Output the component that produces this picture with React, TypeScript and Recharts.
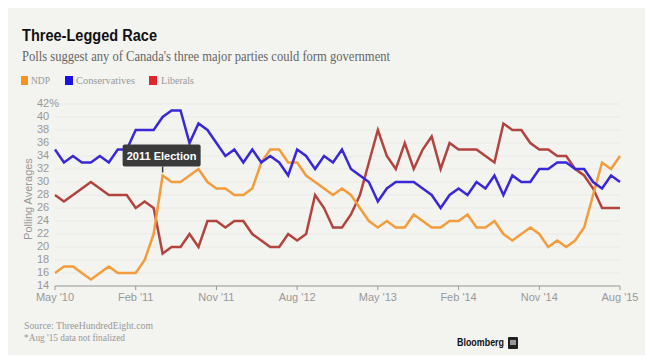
import { LineChart, Line, XAxis, YAxis, CartesianGrid, ReferenceDot } from 'recharts'

// monthly polling averages, May '10 .. Aug '15 (64 months)
const ndp = [
  16, 17, 17, 16, 15, 16, 17, 16, 16, 16, 18, 22, 31, 30, 30, 31,
  32, 30, 29, 29, 28, 28, 29, 33, 35, 35, 33, 33, 31, 30, 29, 28,
  29, 28, 26, 24, 23, 24, 23, 23, 25, 24, 23, 23, 24, 24, 25, 23,
  23, 24, 22, 21, 22, 23, 22, 20, 21, 20, 21, 23, 28, 33, 32, 34,
]
const conservatives = [
  35, 33, 34, 33, 33, 34, 33, 35, 35, 38, 38, 38, 40, 41, 41, 36,
  39, 38, 36, 34, 35, 33, 35, 33, 34, 33, 31, 35, 34, 32, 34, 33,
  35, 32, 31, 30, 27, 29, 30, 30, 30, 29, 28, 26, 28, 29, 28, 30,
  29, 31, 28, 31, 30, 30, 32, 32, 33, 33, 32, 32, 30, 29, 31, 30,
]
const liberals = [
  28, 27, 28, 29, 30, 29, 28, 28, 28, 26, 27, 26, 19, 20, 20, 22,
  20, 24, 24, 23, 24, 24, 22, 21, 20, 20, 22, 21, 22, 28, 26, 23,
  23, 25, 28, 33, 38, 34, 32, 36, 32, 35, 37, 32, 36, 35, 35, 35,
  34, 33, 39, 38, 38, 36, 35, 35, 34, 34, 32, 31, 29, 26, 26, 26,
]

const xTickIndex = [0, 9, 18, 27, 36, 45, 54, 63]
const xTickLabels = ["May '10", "Feb '11", "Nov '11", "Aug '12", "May '13", "Feb '14", "Nov '14", "Aug '15"]
const yTicks = [14, 16, 18, 20, 22, 24, 26, 28, 30, 32, 34, 36, 38, 40, 42]
const electionIndex = 12

const data = ndp.map((v, i) => ({
  i,
  ndp: v,
  conservatives: conservatives[i],
  liberals: liberals[i],
}))

const SANS = '"Liberation Sans", Arial, sans-serif'
const SERIF = '"Liberation Serif", "DejaVu Serif", serif'
const BG = '#f3f3ef'
const TICK_GRAY = '#999'

if (typeof document !== 'undefined') document.body.style.margin = '0'

function YTick({ y, payload }: { y?: number; payload?: { value: number } }) {
  const v = payload?.value ?? 0
  return (
    <text x={29} y={y} dy="0.3em" fontSize={11} fill={TICK_GRAY} fontFamily={SANS}>
      {v === 42 ? '42%' : v}
    </text>
  )
}

function ElectionMarker({ cx, cy }: { cx?: number; cy?: number }) {
  if (cx == null || cy == null) return null
  return (
    <g>
      <line x1={cx} y1={cy - 9} x2={cx} y2={cy - 3} stroke="#3a3a3a" strokeWidth={1.5} />
      <rect x={cx - 40} y={cy - 31} width={78} height={22} rx={2} fill="#3a3a3a" />
      <text x={cx - 1} y={cy - 16} textAnchor="middle" fill="#fff" fontSize={11}
        fontWeight="bold" fontFamily={SANS}>
        2011 Election
      </text>
    </g>
  )
}

export default function App() {
  return (
    <div style={{ padding: '8px 0 0 8px' }}>
      <div style={{ position: 'relative', width: 637, height: 347, background: BG }}>
        <svg width={637} height={347} style={{ position: 'absolute', left: 0, top: 0 }}>
          <text x={14} y={33} fontSize={16} fontWeight="bold" fill="#111" fontFamily={SANS}
            textLength={135} lengthAdjust="spacingAndGlyphs">Three-Legged Race</text>
          <text x={14} y={53} fontSize={15} fill="#666" fontFamily={SERIF}
            textLength={368} lengthAdjust="spacingAndGlyphs">
            Polls suggest any of Canada's three major parties could form government
          </text>

          <rect x={13} y={68} width={7} height={9} fill="#f7941d" />
          <text x={23} y={76} fontSize={11} fill="#999" fontFamily={SERIF}
            textLength={19} lengthAdjust="spacingAndGlyphs">NDP</text>
          <rect x={57} y={68} width={8} height={9} fill="#1a10e6" />
          <text x={68} y={76} fontSize={11} fill="#999" fontFamily={SERIF}
            textLength={59} lengthAdjust="spacingAndGlyphs">Conservatives</text>
          <rect x={141} y={68} width={8} height={9} fill="#e0262c" />
          <text x={153} y={76} fontSize={11} fill="#999" fontFamily={SERIF}
            textLength={33} lengthAdjust="spacingAndGlyphs">Liberals</text>

          <text transform="translate(24,191) rotate(-90)" textAnchor="middle" fontSize={11}
            fill={TICK_GRAY} fontFamily={SANS}>Polling Averages</text>

          <text x={16} y={321} fontSize={11} fill="#999" fontFamily={SERIF}
            textLength={129} lengthAdjust="spacingAndGlyphs">Source: ThreeHundredEight.com</text>
          <text x={16} y={333} fontSize={11} fill="#999" fontFamily={SERIF}
            textLength={101} lengthAdjust="spacingAndGlyphs">*Aug '15 data not finalized</text>

          <text x={449} y={338} fontSize={11} fontWeight="bold" fill="#111" fontFamily={SANS}
            textLength={47} lengthAdjust="spacingAndGlyphs">Bloomberg</text>
          <rect x={500} y={329} width={10} height={12} rx={1} fill="#222" />
          <rect x={502} y={332} width={6} height={5} fill="#999" />
        </svg>

        <div style={{ position: 'absolute', left: 0, top: 0 }}>
          <LineChart width={637} height={347} data={data}
            margin={{ top: 96, right: 25, bottom: 39, left: 29 }}>
            <CartesianGrid horizontal vertical={false} stroke="#e9e9e5" />
            <XAxis
              dataKey="i"
              type="number"
              domain={[0, 63]}
              ticks={xTickIndex}
              tickFormatter={(v: number) => xTickLabels[xTickIndex.indexOf(v)] ?? ''}
              height={30}
              stroke={TICK_GRAY}
              tickSize={4}
              tickMargin={3}
              tick={{ fontSize: 11, fill: TICK_GRAY, fontFamily: SANS }}
            />
            <YAxis
              domain={[14, 42]}
              ticks={yTicks}
              width={18}
              axisLine={false}
              tickLine={false}
              tick={<YTick />}
              interval={0}
            />
            <Line type="linear" dataKey="liberals" stroke="#b2443f" strokeWidth={2.5}
              dot={false} isAnimationActive={false} />
            <Line type="linear" dataKey="ndp" stroke="#f39c3c" strokeWidth={2.5}
              dot={false} isAnimationActive={false} />
            <Line type="linear" dataKey="conservatives" stroke="#3a27d8" strokeWidth={2.5}
              dot={false} isAnimationActive={false} />
            <ReferenceDot x={electionIndex} y={ndp[electionIndex]} ifOverflow="visible"
              shape={<ElectionMarker />} />
          </LineChart>
        </div>
      </div>
    </div>
  )
}
